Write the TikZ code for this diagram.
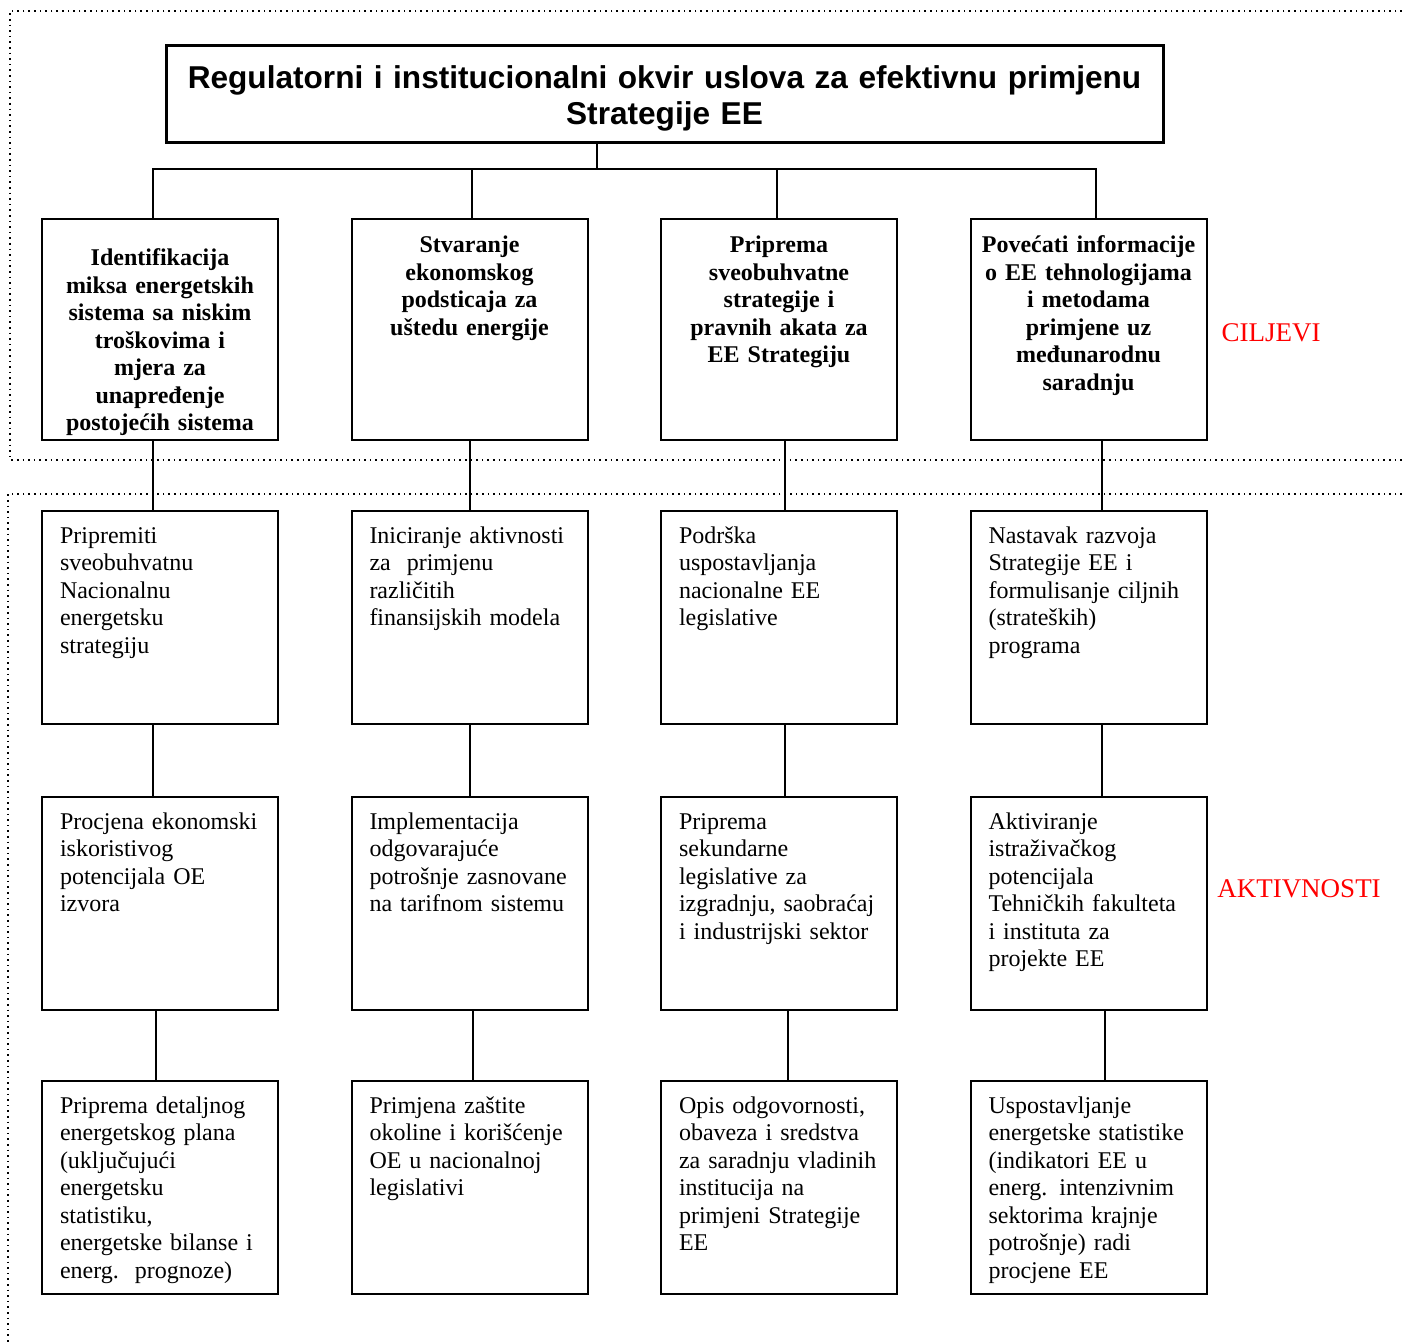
\documentclass[tikz,border=0pt]{standalone}
\usepackage{fontspec}
\setmainfont{Liberation Serif}
\newfontfamily\arialfont{Liberation Sans}
\usetikzlibrary{positioning}
\hyphenpenalty=10000
\exhyphenpenalty=10000

\begin{document}
\begin{tikzpicture}
[x=0.5pt, y=-0.5pt, node distance=34.5pt and 35.75pt,
% STYLES
% The goal style is used for the bold boxes of the first row
goal/.style={rectangle, draw, line width=1pt, inner xsep=5pt, inner ysep=0pt, text width=108pt, align=center, text height=17pt, text depth=93.5pt, font=\fontsize{12}{13.75}\selectfont\bfseries},
% The activity style is used for the boxes under each goal
activity/.style={rectangle, draw, line width=1pt, inner xsep=9pt, inner ysep=0pt, text width=100pt, align=left, text height=16pt, text depth=90.5pt, font=\fontsize{12}{13.75}\selectfont},
% The title style is used for the box on top
title/.style={rectangle, draw, line width=1.5pt, inner ysep=0pt, text width=490pt, text height=21.5pt, text depth=27pt, align=center, font=\arialfont\fontsize{15.8}{18}\selectfont\bfseries},
link/.style={line width=1pt},
frame/.style={dotted, line width=0.8pt},
side/.style={text=red, font=\fontsize{13.5}{16}\selectfont}]

\useasboundingbox (0,0) rectangle (1402,1342);

% Dotted frames
\draw[frame] (1402,11) -- (10,11) -- (10,460) -- (1402,460);
\draw[frame] (1402,494) -- (8,494) -- (8,1342);

% Title
\node [title, minimum width=498.5pt] (title) at (664.5,94.5) {Regulatorni i institucionalni okvir uslova za efektivnu primjenu\\ Strategije EE};

% Goals
\node [goal, anchor=north west, text height=23.5pt, text depth=87pt] (mix) at (41,218) {Identifikacija\\ miksa energetskih\\ sistema sa niskim\\ troškovima i\\ mjera za\\ unapređenje\\ postojećih sistema};
\node [goal, right=of mix] (incentive) {Stvaranje\\ ekonomskog\\ podsticaja za\\ uštedu energije};
\node [goal, right=of incentive] (legal) {Priprema\\ sveobuhvatne\\ strategije i\\ pravnih akata za\\ EE Strategiju};
\node [goal, right=of legal] (info) {Povećati informacije\\ o EE tehnologijama\\ i metodama\\ primjene uz\\ međunarodnu\\ saradnju};

%%%%%%%%%%%%%%%
% Activities

% mix
\node [activity, below=of mix] (strategy) {Pripremiti\\ sveobuhvatnu\\ Nacionalnu\\ energetsku\\ strategiju};
\node [activity, below=35.5pt of strategy] (potential) {Procjena ekonomski\\ iskoristivog\\ potencijala OE\\ izvora};
\node [activity, below=of potential] (energyplan) {Priprema detaljnog\\ energetskog plana\\ (uključujući\\ energetsku\\ statistiku,\\ energetske bilanse i\\ energ.\ \ prognoze)};

% incentive
\node [activity, below=of incentive] (finance) {Iniciranje aktivnosti\\ za\ \ primjenu\\ različitih\\ finansijskih modela};
\node [activity, below=35.5pt of finance] (tariff) {Implementacija\\ odgovarajuće\\ potrošnje zasnovane\\ na tarifnom sistemu};
\node [activity, below=of tariff] (environment) {Primjena zaštite\\ okoline i korišćenje\\ OE u nacionalnoj\\ legislativi};

% legal
\node [activity, below=of legal] (support) {Podrška\\ uspostavljanja\\ nacionalne EE\\ legislative};
\node [activity, below=35.5pt of support] (secondary) {Priprema\\ sekundarne\\ legislative za\\ izgradnju, saobraćaj\\ i industrijski sektor};
\node [activity, below=of secondary] (duties) {Opis odgovornosti,\\ obaveza i sredstva\\ za saradnju vladinih\\ institucija na\\ primjeni Strategije\\ EE};

% info
\node [activity, below=of info] (continuation) {Nastavak razvoja\\ Strategije EE i\\ formulisanje ciljnih\\ (strateških)\\ programa};
\node [activity, below=35.5pt of continuation] (research) {Aktiviranje\\ istraživačkog\\ potencijala\\ Tehničkih fakulteta\\ i instituta za\\ projekte EE};
\node [activity, below=of research] (statistics) {Uspostavljanje\\ energetske statistike\\ (indikatori EE u\\ energ. intenzivnim\\ sektorima krajnje\\ potrošnje) radi\\ procjene EE};

%%%%%%%%%%%%%%%

% Side labels
\node [side] (goals) at (1271,333) {CILJEVI};
\node [side] (activities) at (1299,889) {AKTIVNOSTI};

% Draw the links
\draw[link] ([xshift=-33.75pt]title.south) -- ++(0,25) coordinate (bus);
\draw[link] ([xshift=-3.5pt]mix.north) |- (bus) -| ([xshift=3.5pt]info.north);
\draw[link] ([xshift=1pt]incentive.north) -- ([xshift=1pt]incentive.north |- bus);
\draw[link] ([xshift=-1pt]legal.north) -- ([xshift=-1pt]legal.north |- bus);

\path[link]
([xshift=-3.5pt]mix.south) edge ([xshift=-3.5pt]strategy.north)
([xshift=-3.5pt]strategy.south) edge ([xshift=-3.5pt]potential.north)
([xshift=-2pt]potential.south) edge ([xshift=-2pt]energyplan.north)
(incentive) edge (finance)
(finance) edge (tariff)
([xshift=1.5pt]tariff.south) edge ([xshift=1.5pt]environment.north)
([xshift=3pt]legal.south) edge ([xshift=3pt]support.north)
([xshift=3pt]support.south) edge ([xshift=3pt]secondary.north)
([xshift=4.5pt]secondary.south) edge ([xshift=4.5pt]duties.north)
([xshift=6.5pt]info.south) edge ([xshift=6.5pt]continuation.north)
([xshift=6.5pt]continuation.south) edge ([xshift=6.5pt]research.north)
([xshift=8pt]research.south) edge ([xshift=8pt]statistics.north);

\end{tikzpicture}
\end{document}
